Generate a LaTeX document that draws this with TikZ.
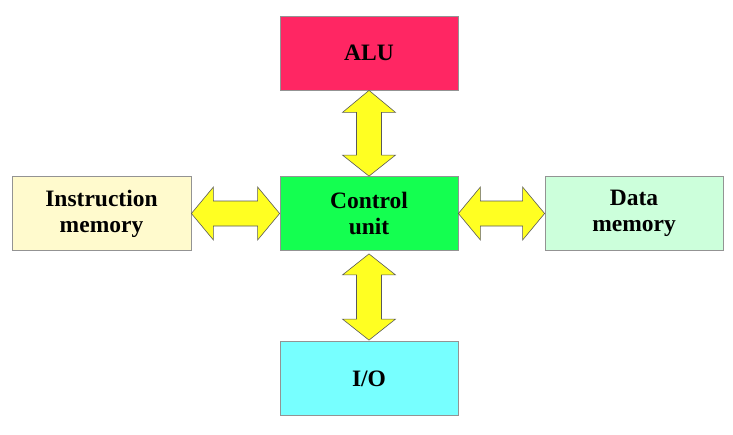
\documentclass[tikz,border=0pt]{standalone}
\usepackage{fontspec}
\setmainfont{Liberation Serif}
\usetikzlibrary{calc}
\definecolor{alured}{HTML}{FF2663}
\definecolor{cugreen}{HTML}{14FF50}
\definecolor{iocyan}{HTML}{77FFFF}
\definecolor{instryellow}{HTML}{FFFACD}
\definecolor{datagreen}{HTML}{CCFFDB}
\definecolor{arrowyellow}{HTML}{FFFF22}
\begin{document}
\begin{tikzpicture}[x=1pt,y=-1pt,
  box/.style={draw=gray!85,line width=0.8pt,minimum width=178pt,minimum height=74pt,inner sep=0pt,
    align=center,font=\fontsize{23.5}{26}\selectfont\bfseries},
  arr/.style={draw=gray!70!black,line width=0.6pt,fill=arrowyellow,line join=miter}]
\useasboundingbox (0,0) rectangle (733,434);
\node[box,fill=alured] (alu) at (369,53) {ALU};
\node[box,fill=cugreen] (cu) at (369,213.5) {Control\\unit};
\node[box,fill=iocyan] (io) at (369,378.5) {I/O};
\node[box,fill=instryellow,minimum width=179pt] (im) at (101.5,213.5) {Instruction\\memory};
\node[box,fill=datagreen] (dm) at (634,213.5) {Data\\memory};
% ALU <-> CU
\draw[arr] (alu.south) -- ++(26.5,22) -- ++(-14,0) -- ($(cu.north)+(12.5,-21)$) -- ++(14,0)
  -- (cu.north) -- ++(-26.5,-21) -- ++(14,0) -- ($(alu.south)+(-12.5,22)$) -- ++(-14,0) -- cycle;
% CU <-> IO
\draw[arr] ($(cu.south)+(0,3)$) -- ++(26.5,21) -- ++(-14,0) -- ($(io.north)+(12.5,-22)$) -- ++(14,0)
  -- ($(io.north)+(0,-1)$) -- ++(-26.5,-21) -- ++(14,0) -- ($(cu.south)+(-12.5,24)$) -- ++(-14,0) -- cycle;
% IM <-> CU
\draw[arr] (im.east) -- ++(22,-26.5) -- ++(0,14) -- ($(cu.west)+(-22,-12.5)$) -- ++(0,-14)
  -- (cu.west) -- ++(-22,26.5) -- ++(0,-14) -- ($(im.east)+(22,12.5)$) -- ++(0,14) -- cycle;
% CU <-> DM
\draw[arr] (cu.east) -- ++(22,-26.5) -- ++(0,14) -- ($(dm.west)+(-22,-12.5)$) -- ++(0,-14)
  -- (dm.west) -- ++(-22,26.5) -- ++(0,-14) -- ($(cu.east)+(22,12.5)$) -- ++(0,14) -- cycle;
\end{tikzpicture}
\end{document}
